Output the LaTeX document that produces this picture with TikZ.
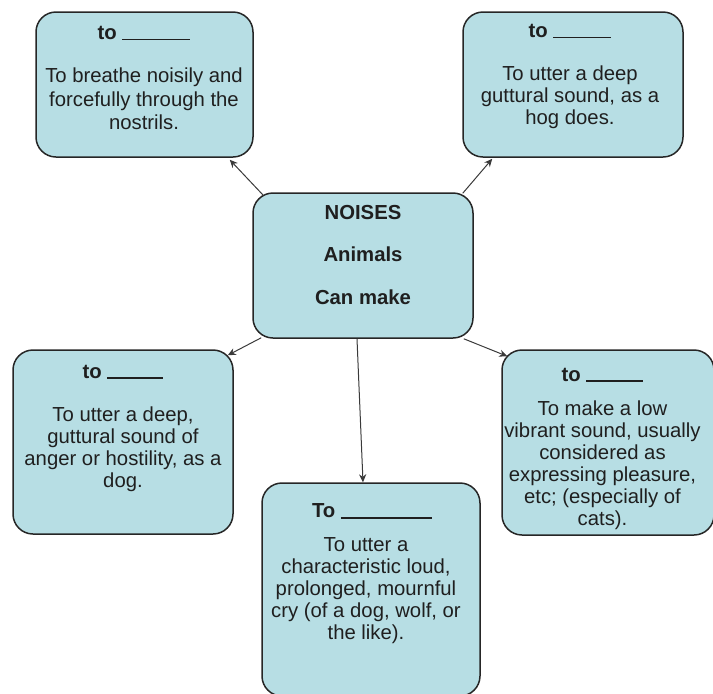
\documentclass[tikz,border=0pt]{standalone}
\usepackage{fontspec}
\setmainfont{Liberation Sans}
\usetikzlibrary{calc,arrows.meta}
\definecolor{boxfill}{HTML}{B7DEE4}
\definecolor{boxline}{HTML}{262626}
\definecolor{linkline}{HTML}{3A3A3A}
% blank to fill in, drawn on the baseline
\newcommand{\blankline}[1]{~\rule[-0.4pt]{#1}{0.8pt}}
\begin{document}
\begin{tikzpicture}[x=0.5pt,y=-0.5pt,
  card/.style={draw=boxline, line width=0.75pt, fill=boxfill,
    rounded corners=10pt, inner sep=0pt},
  cardtext/.style={align=center, inner sep=0pt, text=black!88,
    font=\fontsize{10.15}{11}\selectfont},
  link/.style={draw=linkline, line width=0.5pt,
    -{Stealth[length=4pt,width=3.6pt]}}]
\useasboundingbox (0,0) rectangle (713,693);

% boxes
\node[card, minimum width=108.5pt, minimum height=72.5pt] (snort) at (144.5,84.5) {};
\node[card, minimum width=110pt, minimum height=72.5pt] (grunt) at (573,84.5) {};
\node[card, minimum width=110pt, minimum height=72.5pt] (noises) at (363,265.5) {};
\node[card, minimum width=110pt, minimum height=92pt] (growl) at (123,442) {};
\node[card, minimum width=106pt, minimum height=92.5pt] (purr) at (608,442.5) {};
\node[card, minimum width=109pt, minimum height=106.5pt] (howl) at (371,589.5) {};

% texts
\node[cardtext, font=\fontsize{10.15}{11.75}\selectfont] (snort-text) at (144,78)
  {\textbf{to}\blankline{34pt}\\[9.75pt]
   To breathe noisily and\\ forcefully through the\\ nostrils.};
\node[cardtext] (grunt-text) at (570,76.5)
  {\textbf{to}\blankline{29pt}\\[10.5pt]
   To utter a deep\\ guttural sound, as a\\ hog does.};
\node[cardtext] (noises-text) at (363,255)
  {\textbf{NOISES}\\[10.5pt]\textbf{Animals}\\[10.5pt]\textbf{Can make}};
\node[cardtext] (growl-text) at (123,428)
  {\textbf{to}\blankline{28pt}\\[10.5pt]
   To utter a deep,\\ guttural sound of\\ anger or hostility, as a\\ dog.};
\node[cardtext] (purr-text) at (602.5,449)
  {\textbf{to}\blankline{28.5pt}\\[6.25pt]
   To make a low\\ vibrant sound, usually\\ considered as\\
   expressing pleasure,\\ etc; (especially of\\ cats).};
\node[cardtext] (howl-text) at (366,574)
  {\hspace*{6pt}\textbf{To}\blankline{45.5pt}\\[6pt]
   To utter a\\ characteristic loud,\\ prolonged, mournful\\
   cry (of a dog, wolf, or\\ the like).};

% connectors from the centre box
\draw[link] ($(noises.north west)+(11,3)$) -- ($(snort.south east)+(-24,2)$);
\draw[link] ($(noises.north east)+(-11,1)$) -- ($(grunt.south west)+(30,1)$);
\draw[link] ($(noises.south west)+(9,-1)$) -- ($(growl.north east)+(-6,6)$);
\draw[link] ($(noises.south)+(-6,0)$) -- ($(howl.north)+(-8,0)$);
\draw[link] ($(noises.south east)+(-10,0)$) -- ($(purr.north west)+(6,7)$);
\end{tikzpicture}
\end{document}
